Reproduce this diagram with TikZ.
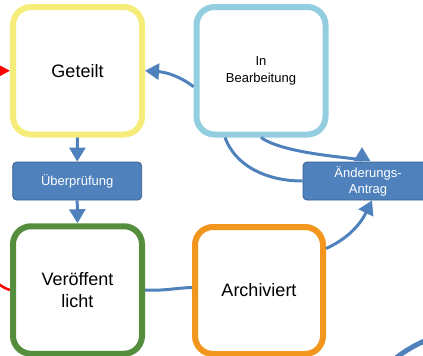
\documentclass[tikz,border=0pt]{standalone}
\usepackage{fontspec}
\setmainfont{Liberation Sans}
\usetikzlibrary{arrows.meta,calc}

\definecolor{shareyellow}{RGB}{245,236,122}
\definecolor{editblue}{RGB}{146,206,224}
\definecolor{pubgreen}{RGB}{84,142,60}
\definecolor{archorange}{RGB}{242,150,30}
\definecolor{flowblue}{RGB}{79,129,189}
\definecolor{taskborder}{RGB}{56,93,138}

\begin{document}
\begin{tikzpicture}[x=1pt,y=-1pt,
  state/.style={rounded corners=18pt, line width=6pt, fill=white,
    minimum width=129pt, minimum height=127.5pt, inner sep=0pt,
    align=center, font=\fontsize{18}{21.5}\selectfont},
  task/.style={rounded corners=4pt, draw=taskborder, line width=0.8pt,
    fill=flowblue, text=white, minimum width=129pt, minimum height=38pt,
    inner sep=0pt, align=center, font=\fontsize{13}{16}\selectfont},
  flow/.style={draw=flowblue, line width=3pt},
  back/.style={draw=red, line width=2.5pt},
  tip/.style={-{Triangle[length=14pt,width=16pt]}}
]
\useasboundingbox (0,0) rectangle (423,356);
\clip (0,0) rectangle (423,356);

% states
\node[state, draw=shareyellow] (get) at (77.5,70.75) {Geteilt};
\node[state, draw=editblue, font=\fontsize{13}{16.5}\selectfont] (inb) at (261,70.75) {In\\Bearbeitung};
\node[state, draw=pubgreen] (ver) at (77.5,290) {Veröffent\\licht};
\node[state, draw=archorange, minimum width=128pt, minimum height=127pt] (arc) at (259,290.5) {Archiviert};

% review and change request steps
\node[task] (ueb) at (77.2,181) {Überprüfung};
\node[task, minimum width=130pt] (aen) at (368,181) {Änderungs-\\Antrag};

% transitions
\draw[flow, tip] (get.south) -- (ueb.north);
\draw[flow, tip] (ueb.south) -- (ver.north);
\draw[flow, tip] ($(inb.west)+(0,16)$) .. controls (180,76) and (165,72) .. (get.east);
\draw[flow, tip] (inb.south) .. controls (285,155) and (362,158) .. ($(aen.north)+(-6,-14.5)$);
\draw[flow] ($(inb.south)+(-36,0)$) .. controls (235,165) and (265,181) .. (aen.west);
\draw[flow, tip] ($(arc.east)+(0,-42)$) .. controls (345,240) and (359,227) .. ($(aen.south)+(4,0)$);
\draw[flow] (ver.east) .. controls (165,291) and (175,288) .. ($(arc.west)+(0,-3)$);

% return path to the shared state
\draw[back, -{Triangle[length=13pt,width=13pt]}] (ver.west) .. controls (-50,272) and (-50,71) .. (get.west);

% outgoing arc at the lower right
\coordinate (arcstart) at (389,364);
\coordinate (arcend) at (434,337);
\draw[draw=flowblue, line width=5pt] (arcstart) .. controls (402,352) and (416,344) .. (arcend);
\end{tikzpicture}
\end{document}
